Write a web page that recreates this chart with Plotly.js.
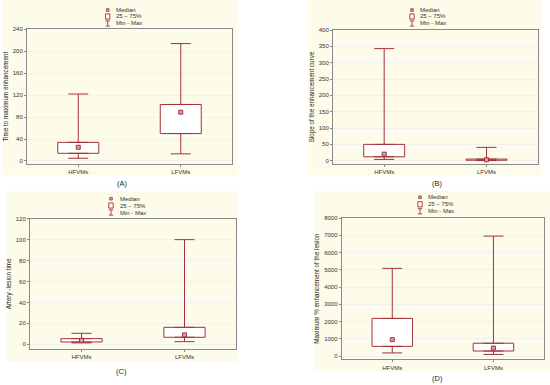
<!DOCTYPE html>
<html>
<head>
<meta charset="utf-8">
<script src="https://cdn.plot.ly/plotly-3.0.1.min.js"></script>
<style>html,body{margin:0;padding:0;background:#fff;}#chart{width:550px;height:385px;}</style>
</head>
<body>
<div id="chart"></div>
<script>
// ---- data ----
var groups = ["HFVMs", "LFVMs"];

var aMin = [5, 13],    aQ1 = [14, 50],   aMed = [25, 89],   aQ3 = [34, 103],  aMax = [122, 214];
var bMin = [4, 0.5],   bQ1 = [12, 1.5],  bMed = [20, 3],    bQ3 = [50, 5],    bMax = [343, 41];
var cMin = [1.3, 2.5], cQ1 = [2.2, 6.7], cMed = [3.8, 9],   cQ3 = [5.4, 16.2],cMax = [10.5, 100];
var dMin = [180, 90],  dQ1 = [560, 290], dMed = [950, 460], dQ3 = [2180, 740],dMax = [5080, 6950];

var titlesY = ["Time to maximum enhancement", "Slope of the enhancement curve",
               "Artery -lesion time", "Maximum % enhancement of the lesion"];
var captions = ["(A)", "(B)", "(C)", "(D)"];
var legendLabels = ["Median", "25 \u2013 75%", "Min - Max"];
var tickStepsY = [40, 50, 20, 1000];
var rangesY = [[-5.5, 240], [-10, 400], [-4.5, 120], [-190, 8000]];

// ---- styling / layout helpers ----
var W = 550, H = 385;
var RED = "#a3323c";
var FONT = "Liberation Sans, Arial, sans-serif";
function px(x) { return x / W; }
function py(y) { return 1 - y / H; }

var panels = [
  {min: aMin, q1: aQ1, med: aMed, q3: aQ3, max: aMax, plot: [27, 29.3, 232, 164], bg: [3, 0, 237, 175],
   leg: {sx: 107.7, tx: 114, ys: [10, 16.5, 23.5]}, cap: [122, 184]},
  {min: bMin, q1: bQ1, med: bMed, q3: bQ3, max: bMax, plot: [333, 30, 537.7, 164], bg: [308, 0, 541, 175],
   leg: {sx: 412, tx: 418, ys: [10, 16.5, 23.5]}, cap: [437, 184]},
  {min: cMin, q1: cQ1, med: cMed, q3: cQ3, max: cMax, plot: [30, 218.7, 236, 349], bg: [7, 191.5, 237, 362],
   leg: {sx: 111, tx: 118, ys: [198.7, 205.5, 212.5]}, cap: [121, 371]},
  {min: dMin, q1: dQ1, med: dMed, q3: dQ3, max: dMax, plot: [341.7, 218, 544, 359.3], bg: [314, 191, 550, 372],
   leg: {sx: 420, tx: 426, ys: [197.3, 204.3, 211.3]}, cap: [437.7, 378]}
];

var traces = [];
var layout = {
  width: W, height: H,
  margin: {l: 0, r: 0, t: 0, b: 0},
  paper_bgcolor: "#ffffff",
  plot_bgcolor: "#ffffff",
  showlegend: false,
  font: {family: FONT, size: 6, color: "#333"},
  shapes: [],
  annotations: []
};

panels.forEach(function (p, i) {
  var n = i === 0 ? "" : String(i + 1);
  var xa = "x" + n, ya = "y" + n;
  var q1 = p.q1, q3 = p.q3;
  var h = q3.map(function (v, k) { return v - q1[k]; });
  var up = p.max.map(function (v, k) { return v - q3[k]; });
  var lo = q1.map(function (v, k) { return v - p.min[k]; });
  var zeros = groups.map(function () { return 0; });

  // box (25-75%)
  traces.push({type: "bar", x: groups, y: h, base: q1, width: 0.4, xaxis: xa, yaxis: ya,
    marker: {color: "rgba(255,255,255,1)", line: {color: RED, width: 1}}, hoverinfo: "skip"});
  // upper whisker
  traces.push({type: "scatter", mode: "markers", x: groups, y: q3, xaxis: xa, yaxis: ya,
    marker: {size: 1, color: "rgba(0,0,0,0)"}, hoverinfo: "skip",
    error_y: {type: "data", symmetric: false, array: up, arrayminus: zeros, color: RED, thickness: 1, width: 10}});
  // lower whisker
  traces.push({type: "scatter", mode: "markers", x: groups, y: q1, xaxis: xa, yaxis: ya,
    marker: {size: 1, color: "rgba(0,0,0,0)"}, hoverinfo: "skip",
    error_y: {type: "data", symmetric: false, array: zeros, arrayminus: lo, color: RED, thickness: 1, width: 10}});
  // median
  traces.push({type: "scatter", mode: "markers", x: groups, y: p.med, xaxis: xa, yaxis: ya,
    marker: {symbol: "square", size: 4, color: "#d9a0a4", line: {color: RED, width: 1}}, hoverinfo: "skip"});

  var pl = p.plot;
  var tickvals = [];
  for (var t = 0; t <= rangesY[i][1] + 1e-9; t += tickStepsY[i]) tickvals.push(t);

  layout["xaxis" + n] = {
    domain: [px(pl[0]), px(pl[2])], anchor: ya, range: [-0.5, 1.5], type: "category",
    showline: true, mirror: true, linecolor: "#8a8a8a", linewidth: 1,
    ticks: "outside", ticklen: 2, tickcolor: "#8a8a8a", showgrid: false, zeroline: false,
    tickfont: {family: FONT, size: 6, color: "#333"}, fixedrange: true
  };
  layout["yaxis" + n] = {
    domain: [py(pl[3]), py(pl[1])], anchor: xa, range: rangesY[i],
    tickvals: tickvals, showline: true, mirror: true, linecolor: "#8a8a8a", linewidth: 1,
    ticks: "outside", ticklen: 2, tickcolor: "#8a8a8a",
    showgrid: true, gridcolor: "#f1f1f1", gridwidth: 1, zeroline: false,
    tickfont: {family: FONT, size: 6, color: "#333"},
    title: {text: titlesY[i], font: {family: FONT, size: 6.3, color: "#222"}, standoff: 3},
    fixedrange: true
  };

  // cream panel background
  layout.shapes.push({type: "rect", xref: "paper", yref: "paper", layer: "below",
    x0: px(p.bg[0]), x1: px(p.bg[2]), y0: py(p.bg[3]), y1: py(p.bg[1]),
    fillcolor: "#fdfbe9", line: {width: 0}});

  // legend
  var L = p.leg, s = L.sx;
  layout.shapes.push({type: "rect", xref: "paper", yref: "paper",
    x0: px(s - 1.3), x1: px(s + 1.3), y0: py(L.ys[0] + 1.3), y1: py(L.ys[0] - 1.3),
    fillcolor: "#d9a0a4", line: {color: RED, width: 0.8}});
  layout.shapes.push({type: "rect", xref: "paper", yref: "paper",
    x0: px(s - 2.2), x1: px(s + 2.2), y0: py(L.ys[1] + 2.6), y1: py(L.ys[1] - 2.6),
    fillcolor: "rgba(0,0,0,0)", line: {color: RED, width: 0.9}});
  layout.shapes.push({type: "line", xref: "paper", yref: "paper",
    x0: px(s), x1: px(s), y0: py(L.ys[2] + 2.6), y1: py(L.ys[2] - 2.6), line: {color: RED, width: 0.9}});
  layout.shapes.push({type: "line", xref: "paper", yref: "paper",
    x0: px(s - 2.2), x1: px(s + 2.2), y0: py(L.ys[2] + 2.6), y1: py(L.ys[2] + 2.6), line: {color: RED, width: 0.9}});
  layout.shapes.push({type: "line", xref: "paper", yref: "paper",
    x0: px(s - 2.2), x1: px(s + 2.2), y0: py(L.ys[2] - 2.6), y1: py(L.ys[2] - 2.6), line: {color: RED, width: 0.9}});
  legendLabels.forEach(function (lab, k) {
    layout.annotations.push({xref: "paper", yref: "paper", x: px(L.tx), y: py(L.ys[k]),
      xanchor: "left", yanchor: "middle", text: lab, showarrow: false,
      font: {family: FONT, size: 6, color: "#333"}});
  });

  // caption
  layout.annotations.push({xref: "paper", yref: "paper", x: px(p.cap[0]), y: py(p.cap[1]),
    xanchor: "center", yanchor: "middle", text: captions[i], showarrow: false,
    font: {family: FONT, size: 7.5, color: "#222"}});
});

Plotly.newPlot("chart", traces, layout, {displayModeBar: false, staticPlot: true});
</script>
</body>
</html>
